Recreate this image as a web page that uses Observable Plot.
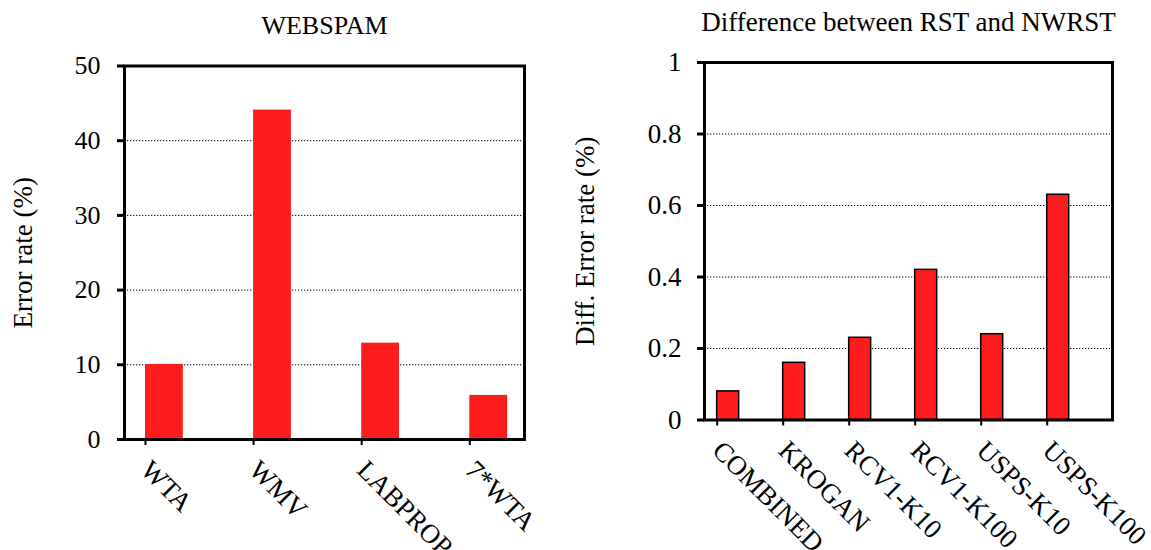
<!DOCTYPE html>
<html>
<head>
<meta charset="utf-8">
<script src="https://cdn.jsdelivr.net/npm/d3@7"></script>
<script src="https://cdn.jsdelivr.net/npm/@observablehq/plot@0.6"></script>
<style>
  body { margin: 0; background: #fff; }
  #wrap { position: relative; width: 1151px; height: 550px; overflow: hidden; background: #fff; }
  #left { position: absolute; left: 0; top: 0; }
  #right { position: absolute; left: 560px; top: 0; }
  #wrap svg, #wrap svg text { font-family: "Liberation Serif", "Times New Roman", serif !important; }
</style>
</head>
<body>
<div id="wrap"><div id="left"></div><div id="right"></div></div>
<script>
// ---- Left panel data ----
const webspamTitle = "WEBSPAM";
const webspamYLabel = "Error rate (%)";
const webspamCategories = ["WTA", "WMV", "LABPROP", "7*WTA"];
const webspamValues = [10.05, 44.1, 12.9, 5.9];
const webspamYTicks = [0, 10, 20, 30, 40, 50];
const webspamGrid = [10, 20, 30, 40];

// ---- Right panel data ----
const diffTitle = "Difference between RST and NWRST";
const diffYLabel = "Diff. Error rate (%)";
const diffCategories = ["COMBINED", "KROGAN", "RCV1-K10", "RCV1-K100", "USPS-K10", "USPS-K100"];
const diffValues = [0.08, 0.16, 0.23, 0.42, 0.24, 0.63];
const diffYTicks = [0, 0.2, 0.4, 0.6, 0.8, 1];
const diffYTickLabels = ["0", "0.2", "0.4", "0.6", "0.8", "1"];
const diffGrid = [0.2, 0.4, 0.6, 0.8];

const FONT = '"Liberation Serif", "Times New Roman", serif';
const RED = "#ff1c1c";

function panel(o) {
  const data = o.cats.map((c, i) => ({ i, cat: c, v: o.vals[i] }));
  return Plot.plot({
    width: o.width,
    height: 550,
    marginLeft: o.ml,
    marginRight: o.mr,
    marginTop: o.mt,
    marginBottom: o.mb,
    style: { fontFamily: FONT, background: "#fff", overflow: "visible" },
    x: { type: "linear", domain: o.xDomain },
    y: { type: "linear", domain: o.yDomain },
    marks: [
      Plot.gridY(o.grid, { stroke: "#000", strokeOpacity: 1, strokeWidth: 1, strokeDasharray: "1.3,1.7", insetLeft: 3, insetRight: 2 }),
      Plot.rectY(data, {
        x1: "i", x2: d => d.i + o.barW, y: "v",
        fill: RED, stroke: o.barStroke, strokeWidth: o.barStrokeWidth
      }),
      Plot.frame({ stroke: "#000", strokeWidth: 3 }),
      Plot.axisY({
        ticks: o.yTicks, tickFormat: o.yFormat, tickSize: 7, tickPadding: o.yPad,
        strokeWidth: 3, fontSize: o.tickFont, fontFamily: FONT, label: null
      }),
      Plot.axisX({
        ticks: d3.range(o.cats.length), tickFormat: i => o.cats[i], tickSize: 6,
        tickPadding: o.xPad, tickRotate: 45, strokeWidth: 2, fontSize: o.xFont, fontFamily: FONT, label: null
      }),
      Plot.text([o.title], { frameAnchor: "top", dy: o.titleDy, fontSize: o.titleFont, fontFamily: FONT, textAnchor: "middle", lineAnchor: "middle", fill: "#000" }),
      Plot.text([o.ylabel], { frameAnchor: "left", dx: o.ylabelDx, rotate: -90, fontSize: o.ylabelFont, fontFamily: FONT, textAnchor: "middle", lineAnchor: "middle", fill: "#000" })
    ]
  });
}

document.getElementById("left").appendChild(panel({
  width: 560, ml: 124, mr: 36, mt: 65.5, mb: 111,
  cats: webspamCategories, vals: webspamValues,
  xDomain: [-0.194, 3.506], yDomain: [0, 50], barW: 0.35,
  barStroke: "none", barStrokeWidth: 0,
  grid: webspamGrid, yTicks: webspamYTicks, yFormat: d => String(d),
  yPad: 17, xPad: 20, tickFont: 26, xFont: 27,
  title: webspamTitle, titleDy: -40, titleFont: 26,
  ylabel: webspamYLabel, ylabelDx: -101, ylabelFont: 27
}));

document.getElementById("right").appendChild(panel({
  width: 591, ml: 144, mr: 39, mt: 62, mb: 130.5,
  cats: diffCategories, vals: diffValues,
  xDomain: [-0.192, 5.989], yDomain: [0, 1], barW: 0.333,
  barStroke: "#000", barStrokeWidth: 1.5,
  grid: diffGrid, yTicks: diffYTicks, yFormat: d => diffYTickLabels[diffYTicks.indexOf(d)],
  yPad: 16, xPad: 20, tickFont: 27, xFont: 27,
  title: diffTitle, titleDy: -40, titleFont: 27,
  ylabel: diffYLabel, ylabelDx: -119.5, ylabelFont: 27
}));
</script>
</body>
</html>
